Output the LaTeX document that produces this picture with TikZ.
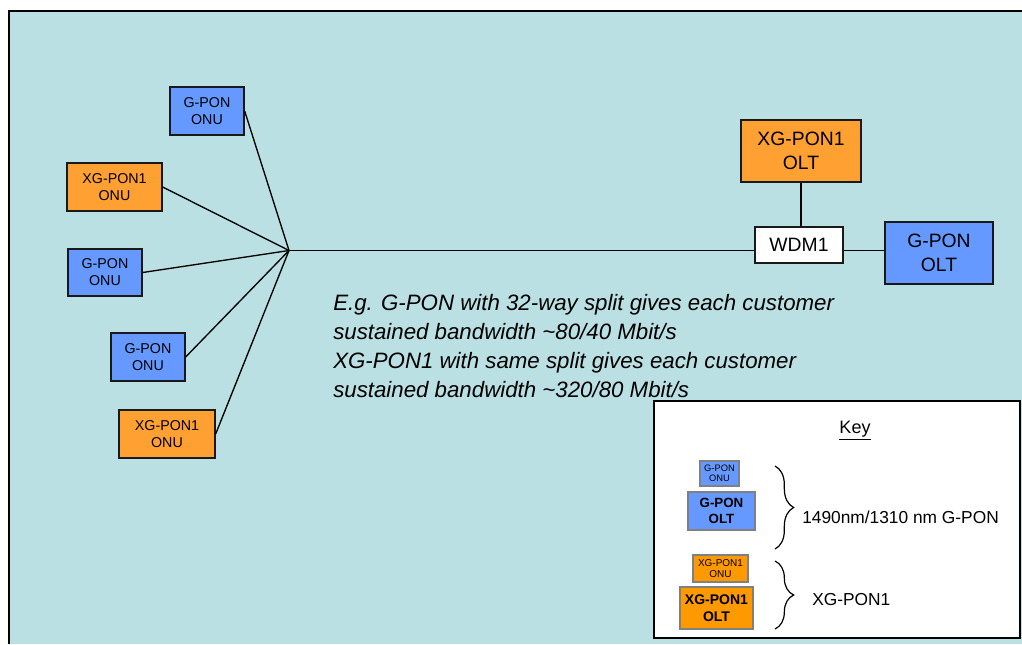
\documentclass[tikz,border=0pt]{standalone}
\usepackage{fontspec}
\setmainfont{Liberation Sans}
\usetikzlibrary{decorations.pathreplacing}
\definecolor{panel}{HTML}{BBE0E3}
\definecolor{ponblue}{HTML}{6699FF}
\definecolor{xgorange}{HTML}{FFA033}
\definecolor{keyorange}{HTML}{FF9900}
\tikzset{
  sz/.style 2 args={minimum width=#1*0.75pt, minimum height=#2*0.75pt},
  unit/.style={draw=black!90, line width=1pt, inner sep=0pt, align=center},
  onu/.style={unit, font=\fontsize{10.7}{12.8}\selectfont},
  olt/.style={unit, font=\fontsize{14.5}{17.5}\selectfont},
  gpon/.style={fill=ponblue},
  xgpon/.style={fill=xgorange},
  keyunit/.style={draw=gray, line width=0.8pt, inner sep=0pt, align=center},
  fibre/.style={line width=1pt},
  keybrace/.style={decorate, decoration={brace, amplitude=14pt}, line width=0.9pt},
}
\begin{document}
\begin{tikzpicture}[x=0.75pt, y=-0.75pt]
  \useasboundingbox (0,0) rectangle (1022,644);
  % background panel
  \fill[panel] (9,11) rectangle (1022,644);
  \draw[line width=1.2pt] (9,644) -- (9,11) -- (1022,11);

  % optical network units
  \node[onu, gpon, sz={74}{48}]  (onu1) at (207,111)   {G-PON\\ONU};
  \node[onu, xgpon, sz={95}{48}] (onu2) at (114.5,187) {XG-PON1\\ONU};
  \node[onu, gpon, sz={74}{47}]  (onu3) at (105,272.5) {G-PON\\ONU};
  \node[onu, gpon, sz={74}{48}]  (onu4) at (148,357)   {G-PON\\ONU};
  \node[onu, xgpon, sz={96}{48}] (onu5) at (167,434)   {XG-PON1\\ONU};

  % splitter
  \coordinate (split) at (289,250.5);

  % head end
  \node[olt, xgpon, sz={120}{62}] (xolt) at (801,151) {XG-PON1\\OLT};
  \node[olt, fill=white, sz={88}{36}] (wdm) at (799,245) {WDM1};
  \node[olt, gpon, sz={108}{62}] (golt) at (939,253) {G-PON\\OLT};

  % fibres
  \foreach \n in {onu1,onu2,onu3,onu4,onu5}
    \draw[fibre] (\n.east) -- (split);
  \draw[fibre] (split) -- (split -| wdm.west);
  \draw[fibre] (wdm.east |- split) -- (golt.west |- split);
  \draw[fibre] (xolt.south) -- (wdm.north -| xolt.south);

  % bandwidth note
  \node[anchor=north west, inner sep=0pt, align=left,
        font=\fontsize{16.7}{21.75}\selectfont\itshape] (note) at (333,294)
    {E.g. G-PON with 32-way split gives each customer\\
     sustained bandwidth \textasciitilde 80/40 Mbit/s\\
     XG-PON1 with same split gives each customer\\
     sustained bandwidth \textasciitilde 320/80 Mbit/s};

  % key
  \node[draw=black, fill=white, line width=1.2pt, inner sep=0pt,
        minimum width=366*0.75pt, minimum height=237*0.75pt] (keybox) at (837,519.5) {};
  \node[font=\fontsize{13.5}{16}\selectfont] (keytitle) at (855,431) {\underline{Key}};

  \node[keyunit, fill=ponblue, sz={39}{25}, font=\fontsize{7}{7.5}\selectfont]
    (konu) at (719.5,473.5) {G-PON\\ONU};
  \node[keyunit, fill=ponblue, sz={67}{38}, font=\fontsize{10}{12}\selectfont\bfseries]
    (kolt) at (721.5,511) {G-PON\\OLT};
  \node[keyunit, fill=keyorange, sz={55}{27}, font=\fontsize{7.5}{8.5}\selectfont]
    (kxonu) at (720.5,568.5) {XG-PON1\\ONU};
  \node[keyunit, fill=keyorange, sz={73}{42}, font=\fontsize{10.5}{13}\selectfont\bfseries]
    (kxolt) at (716.5,608) {XG-PON1\\OLT};

  \coordinate (b1t) at (775,466);
  \coordinate (b1b) at (775,549);
  \coordinate (b2t) at (775,561);
  \coordinate (b2b) at (775,629);
  \draw[keybrace] (b1t) -- (b1b);
  \draw[keybrace] (b2t) -- (b2b);

  \node[anchor=west, inner sep=0pt, font=\fontsize{13}{15}\selectfont]
    (klab1) at (802,517) {1490nm/1310 nm G-PON};
  \node[anchor=west, inner sep=0pt, font=\fontsize{13}{15}\selectfont]
    (klab2) at (812,600) {XG-PON1};
\end{tikzpicture}
\end{document}
